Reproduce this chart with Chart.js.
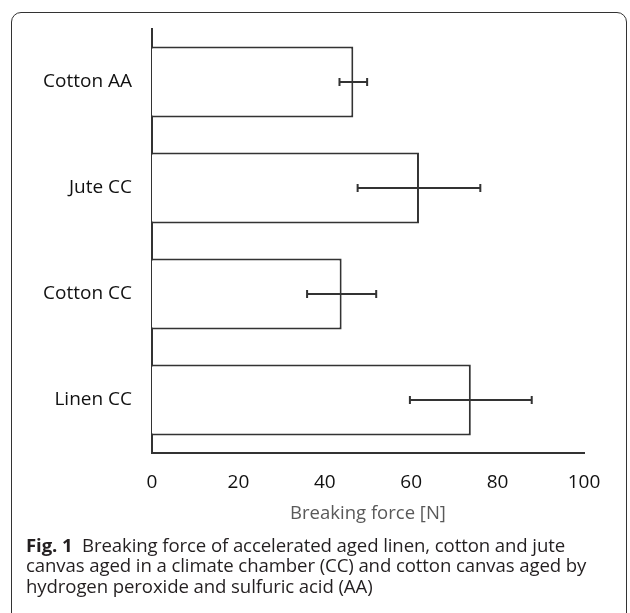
<!DOCTYPE html>
<html>
<head>
<meta charset="utf-8">
<script src="https://cdn.jsdelivr.net/npm/chart.js@4"></script>
<style>
  html, body { margin:0; padding:0; background:#fff; width:630px; height:613px; overflow:hidden; }
  #frame { position:absolute; left:11px; top:12px; width:614px; height:700px; border:1.5px solid #333; border-radius:10px; }
  #wrap { position:absolute; left:0; top:0; width:630px; height:530px; }
  #xtitle { position:absolute; left:152px; width:432px; top:499px; text-align:center; font-family:'Open Sans', sans-serif; font-size:18.5px; line-height:26px; color:#595959; }
  #caption { position:absolute; left:26px; top:535px; width:604px; font-family:'Open Sans', sans-serif; font-size:18.6px; line-height:20.4px; color:#231f20; letter-spacing:-0.1px; white-space:nowrap; }
  #caption b { font-weight:700; }
</style>
</head>
<body>
<div id="frame"></div>
<div id="wrap"><canvas id="c"></canvas></div>
<div id="xtitle">Breaking force [N]</div>
<div id="caption"><b>Fig. 1</b>&nbsp; Breaking force of accelerated aged linen, cotton and jute<br>canvas aged in a climate chamber (CC) and cotton canvas aged by<br>hydrogen peroxide and sulfuric acid (AA)</div>
<script>
const categories = ['Cotton AA', 'Jute CC', 'Cotton CC', 'Linen CC'];
const breakingForce = [46.6, 61.8, 43.9, 73.8];
const errorValues = [3.2, 14.2, 8.0, 14.1];
const xTicks = [0, 20, 40, 60, 80, 100];

const errorBarPlugin = {
  id: 'errorBars',
  afterDatasetsDraw(chart) {
    const ctx = chart.ctx;
    const xs = chart.scales.x, ys = chart.scales.y;
    ctx.save();
    ctx.strokeStyle = '#333';
    ctx.lineWidth = 2;
    breakingForce.forEach((v, i) => {
      const y = ys.getPixelForValue(i);
      const x1 = xs.getPixelForValue(v - errorValues[i]);
      const x2 = xs.getPixelForValue(v + errorValues[i]);
      ctx.beginPath();
      ctx.moveTo(x1, y); ctx.lineTo(x2, y);
      ctx.moveTo(x1, y - 4); ctx.lineTo(x1, y + 4);
      ctx.moveTo(x2, y - 4); ctx.lineTo(x2, y + 4);
      ctx.stroke();
    });
    ctx.restore();
  }
};

new Chart(document.getElementById('c'), {
  type: 'bar',
  data: {
    labels: categories,
    datasets: [{
      data: breakingForce,
      backgroundColor: '#ffffff',
      borderColor: '#333333',
      borderWidth: 2,
      categoryPercentage: 1,
      barPercentage: 0.67
    }]
  },
  options: {
    indexAxis: 'y',
    responsive: true,
    maintainAspectRatio: false,
    animation: false,
    layout: { padding: { top: 29, right: 46, left: 0, bottom: 0 } },
    plugins: { legend: { display: false }, tooltip: { enabled: false } },
    scales: {
      x: {
        min: 0, max: 100,
        afterBuildTicks: s => { s.ticks = xTicks.map(v => ({ value: v })); },
        afterFit: s => { s.height = 77; },
        grid: { display: false },
        border: { display: true, color: '#333', width: 2 },
        ticks: { padding: 10, color: '#111', font: { family: 'Open Sans', size: 19 }, maxRotation: 0 }
      },
      y: {
        afterFit: s => { s.width = 152; },
        grid: { display: false },
        border: { display: true, color: '#333', width: 2 },
        ticks: { padding: 12, color: '#111', font: { family: 'Open Sans', size: 19 } }
      }
    }
  },
  plugins: [errorBarPlugin]
});
</script>
</body>
</html>
